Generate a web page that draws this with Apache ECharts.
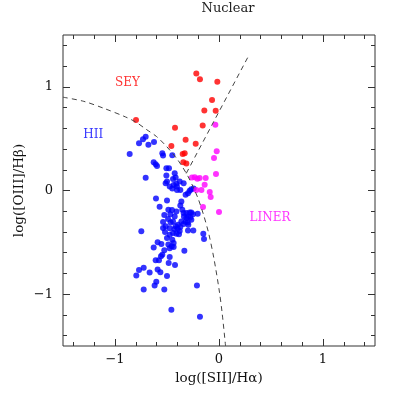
<!DOCTYPE html>
<html>
<head>
<meta charset="utf-8">
<script src="https://cdn.jsdelivr.net/npm/echarts@6/dist/echarts.min.js"></script>
<style>
  html, body { margin: 0; padding: 0; background: #fff; }
  #chart { width: 409px; height: 409px; }
</style>
</head>
<body>
<div id="chart"></div>
<script>
// star-forming (HII) nuclei
const hiiPoints = [
  [-0.705, 0.519], [-0.731, 0.494], [-0.769, 0.455], [-0.679, 0.442], [-0.625, 0.468],
  [-0.859, 0.353], [-0.545, 0.359], [-0.538, 0.337], [-0.449, 0.340], [-0.628, 0.272],
  [-0.609, 0.253], [-0.596, 0.237], [-0.506, 0.215], [-0.481, 0.215], [-0.705, 0.122],
  [-0.506, 0.144], [-0.513, 0.071], [-0.500, 0.087], [-0.442, 0.112], [-0.417, 0.125],
  [-0.410, 0.064], [-0.404, 0.038], [-0.340, 0.071], [-0.449, 0.019], [-0.404, 0.006],
  [-0.372, 0.006], [-0.321, -0.042], [-0.298, -0.026], [-0.282, -0.003], [-0.266, 0.013],
  [-0.244, 0.019], [-0.436, 0.054], [-0.378, 0.087], [-0.474, 0.038], [-0.426, 0.167],
  [-0.606, -0.077], [-0.500, -0.096], [-0.571, -0.157], [-0.362, -0.106], [-0.372, -0.144],
  [-0.487, -0.186], [-0.452, -0.189], [-0.526, -0.237], [-0.468, -0.228], [-0.340, -0.218],
  [-0.314, -0.218], [-0.282, -0.212], [-0.266, -0.212], [-0.250, -0.228], [-0.205, -0.224],
  [-0.337, -0.250], [-0.298, -0.250], [-0.276, -0.260], [-0.490, -0.276], [-0.538, -0.304],
  [-0.465, -0.308], [-0.321, -0.301], [-0.301, -0.308], [-0.513, -0.346], [-0.417, -0.346],
  [-0.340, -0.324], [-0.295, -0.330], [-0.538, -0.362], [-0.474, -0.365], [-0.429, -0.372],
  [-0.397, -0.369], [-0.378, -0.391], [-0.410, -0.417], [-0.298, -0.385], [-0.247, -0.385],
  [-0.747, -0.394], [-0.519, -0.401], [-0.474, -0.426], [-0.385, -0.423], [-0.449, -0.474],
  [-0.426, -0.250], [-0.442, -0.298], [-0.394, -0.330], [-0.372, -0.353], [-0.362, -0.298],
  [-0.410, -0.202], [-0.353, -0.186], [-0.314, -0.266], [-0.266, -0.282], [-0.442, -0.410],
  [-0.500, -0.458], [-0.436, -0.506],
  [-0.590, -0.500], [-0.554, -0.516], [-0.487, -0.522], [-0.455, -0.538], [-0.436, -0.545],
  [-0.628, -0.551], [-0.474, -0.558], [-0.526, -0.577], [-0.333, -0.580], [-0.545, -0.619],
  [-0.558, -0.635], [-0.474, -0.641], [-0.609, -0.673], [-0.577, -0.673], [-0.484, -0.699],
  [-0.423, -0.718], [-0.724, -0.744], [-0.769, -0.766], [-0.590, -0.763], [-0.564, -0.788],
  [-0.667, -0.792], [-0.795, -0.821], [-0.500, -0.824], [-0.603, -0.881], [-0.619, -0.917],
  [-0.724, -0.955], [-0.526, -0.955], [-0.212, -0.917], [-0.151, -0.417], [-0.144, -0.468],
  [-0.458, -1.151], [-0.183, -1.218]
];

// Seyfert nuclei
const seyPoints = [
  [-0.218, 1.128], [-0.183, 1.074], [-0.016, 1.048], [-0.067, 0.872], [-0.141, 0.772],
  [-0.032, 0.769], [-0.157, 0.628], [-0.798, 0.679], [-0.423, 0.606], [-0.321, 0.490],
  [-0.224, 0.452], [-0.458, 0.429], [-0.349, 0.353], [-0.330, 0.359], [-0.343, 0.272],
  [-0.314, 0.260]
];

// LINER nuclei
const linerPoints = [
  [-0.035, 0.635], [-0.022, 0.379], [-0.048, 0.314], [-0.029, 0.158], [-0.260, 0.125],
  [-0.233, 0.129], [-0.208, 0.114], [-0.186, 0.120], [-0.128, 0.120], [-0.138, 0.055],
  [-0.218, 0.006], [-0.169, 0.006], [-0.089, -0.015], [-0.080, -0.063], [-0.154, -0.160],
  [0.000, -0.208]
];

// dividing lines
const maxStarburst = [
  [-1.5, 0.90], [-1.3, 0.86], [-1.1, 0.79], [-0.9, 0.71], [-0.8, 0.66], [-0.7, 0.59],
  [-0.6, 0.52], [-0.5, 0.42], [-0.4, 0.30], [-0.35, 0.225], [-0.3, 0.14], [-0.25, 0.037],
  [-0.2, -0.08], [-0.15, -0.23], [-0.1, -0.41], [-0.05, -0.65], [0.0, -0.95],
  [0.03, -1.18], [0.063, -1.5]
];
const seyLinerLine = [[-0.315, 0.165], [0.28, 1.29]];

const regionLabels = [
  { name: "SEY", value: [-0.88, 1.04], color: "#ff0000" },
  { name: "HII", value: [-1.21, 0.535], color: "#0000ff" },
  { name: "LINER", value: [0.49, -0.26], color: "#ff00ff" }
];

const FONT = "DejaVu Serif";
const INK = "#333";
const minus = (v) => String(v).replace("-", "\u2212");

// plot box in pixels; ticks live on inset grids sharing the same scale
const L = 63, T = 35, W = 312, H = 311;
const ux = W / 3, uy = H / 3;

const chart = echarts.init(document.getElementById("chart"));

const tickAxis = (pos, min, max, len, labels, grid) => ({
  type: "value", position: pos, gridIndex: grid,
  min: min, max: max, interval: max - min > 2.1 ? 0.2 : 1,
  axisLine: { show: false },
  axisTick: { show: true, inside: true, length: len, lineStyle: { color: INK, width: 1 } },
  axisLabel: labels
    ? { show: true, color: "#111", fontFamily: FONT, fontSize: 13, margin: pos === "bottom" ? 7 : 10, formatter: minus }
    : { show: false },
  splitLine: { show: false }
});
const hidden = (grid) => ({ type: "value", gridIndex: grid, show: false, min: 0, max: 1 });

chart.setOption({
  animation: false,
  backgroundColor: "#fff",
  title: {
    text: "Nuclear",
    left: 223, top: -3, textAlign: "center",
    textStyle: { fontFamily: FONT, fontSize: 13, fontWeight: "normal", color: "#222" }
  },
  grid: [
    { left: L, top: T, width: W, height: H, show: true, borderColor: INK, borderWidth: 1, backgroundColor: "transparent" },
    { left: L + 0.1 * ux, top: T, width: W - 0.2 * ux, height: H },
    { left: L + 0.5 * ux, top: T, width: W - 1.0 * ux, height: H },
    { left: L, top: T + 0.1 * uy, width: W, height: H - 0.2 * uy },
    { left: L, top: T + 0.5 * uy, width: W, height: H - 1.0 * uy }
  ],
  xAxis: [
    {
      type: "value", gridIndex: 0, min: -1.5, max: 1.5,
      axisLine: { show: false }, axisTick: { show: false }, axisLabel: { show: false },
      splitLine: { show: false },
      name: "log([SII]/H\u03b1)", nameLocation: "middle", nameGap: 25,
      nameTextStyle: { fontFamily: FONT, fontSize: 13.5, color: "#111" }
    },
    tickAxis("bottom", -1.4, 1.4, 4, false, 1),
    tickAxis("top", -1.4, 1.4, 4, false, 1),
    tickAxis("bottom", -1, 1, 7, true, 2),
    tickAxis("top", -1, 1, 7, false, 2),
    hidden(3),
    hidden(4)
  ],
  yAxis: [
    {
      type: "value", gridIndex: 0, min: -1.5, max: 1.5,
      axisLine: { show: false }, axisTick: { show: false }, axisLabel: { show: false },
      splitLine: { show: false },
      name: "log([OIII]/H\u03b2)", nameLocation: "middle", nameGap: 37,
      nameTextStyle: { fontFamily: FONT, fontSize: 13.5, color: "#111" }
    },
    hidden(1),
    hidden(2),
    tickAxis("left", -1.4, 1.4, 4, false, 3),
    tickAxis("right", -1.4, 1.4, 4, false, 3),
    tickAxis("left", -1, 1, 7, true, 4),
    tickAxis("right", -1, 1, 7, false, 4)
  ],
  series: [
    {
      type: "line", xAxisIndex: 0, yAxisIndex: 0, data: maxStarburst,
      smooth: 0.3, symbol: "none", z: 3,
      lineStyle: { color: "#444", width: 1, type: [5, 4] }
    },
    {
      type: "line", xAxisIndex: 0, yAxisIndex: 0, data: seyLinerLine,
      symbol: "none", z: 3,
      lineStyle: { color: "#444", width: 1, type: [5, 4] }
    },
    {
      type: "scatter", xAxisIndex: 0, yAxisIndex: 0, data: hiiPoints,
      symbolSize: 6, itemStyle: { color: "#0000ff" }
    },
    {
      type: "scatter", xAxisIndex: 0, yAxisIndex: 0, data: seyPoints,
      symbolSize: 6, itemStyle: { color: "#ff0000" }
    },
    {
      type: "scatter", xAxisIndex: 0, yAxisIndex: 0, data: linerPoints,
      symbolSize: 6, itemStyle: { color: "#ff00ff" }
    },
    {
      type: "scatter", xAxisIndex: 0, yAxisIndex: 0, symbolSize: 0, silent: true,
      data: regionLabels.map((r) => ({
        name: r.name, value: r.value,
        label: {
          show: true, position: "inside", formatter: "{b}",
          fontFamily: FONT, fontSize: 12, color: r.color
        }
      }))
    }
  ]
});
</script>
</body>
</html>
